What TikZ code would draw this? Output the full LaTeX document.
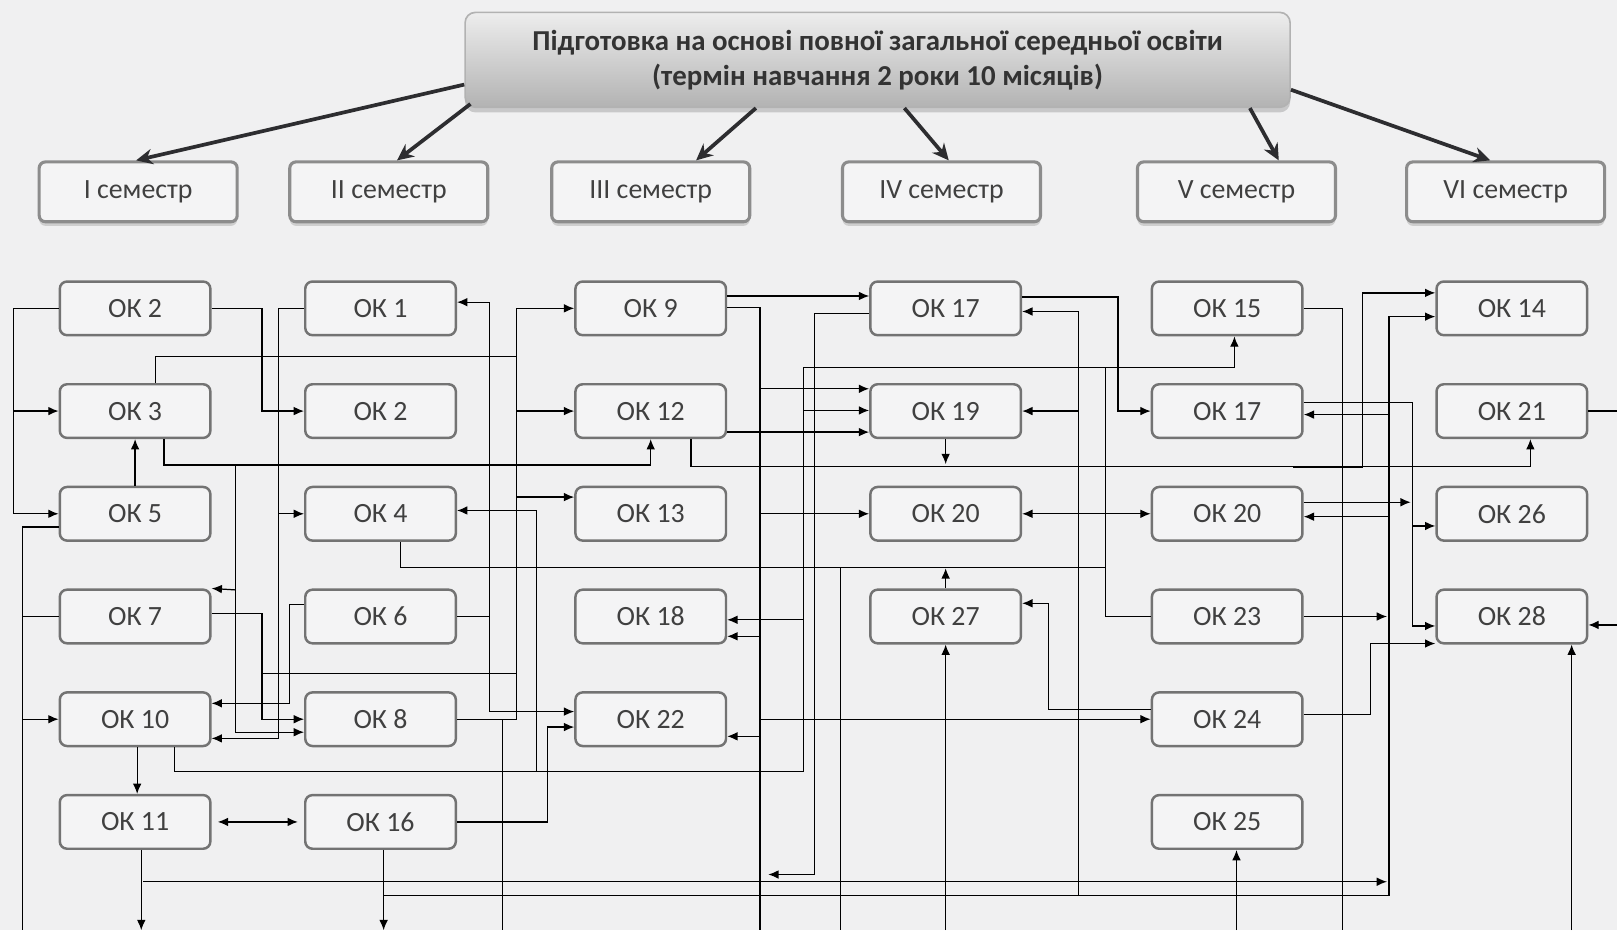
\documentclass[tikz,border=0pt]{standalone}
\usepackage{fontspec}
\setmainfont{Carlito}
\usetikzlibrary{arrows.meta,shadows}
\definecolor{paper}{RGB}{240,240,241}
\definecolor{boxfill}{RGB}{244,244,245}
\definecolor{ink}{RGB}{45,45,48}

\begin{document}
\begin{tikzpicture}[x=0.5pt,y=-0.5pt,>={Latex[length=5pt,width=4.2pt]},line width=0.6pt,node distance=49.8pt,
  every node/.style={font=\fontsize{13.5}{16}\selectfont,text=black!75},
  ok/.style={draw=black!55,line width=1.2pt,rounded corners=3.5pt,fill=boxfill,minimum width=73pt,minimum height=26pt,inner sep=0pt},
  sem/.style={draw=black!45,line width=1.5pt,rounded corners=3pt,fill=boxfill,minimum width=96pt,minimum height=29pt,drop shadow={shadow xshift=0pt,shadow yshift=-2pt,opacity=0.3}},
  head/.style={draw=black!30,line width=0.8pt,rounded corners=5pt,top color=black!7,bottom color=black!30,minimum width=400pt,minimum height=46pt,align=center,font=\bfseries\fontsize{14}{17}\selectfont,text=black!80,drop shadow={shadow xshift=0pt,shadow yshift=-2.5pt,opacity=0.35}},
  big/.style={line width=1.8pt,draw=ink,-{Stealth[length=8pt,width=7.5pt]}}]
  \useasboundingbox (0,0) rectangle (1568,902);
  \fill[paper] (0,0) rectangle (1568,902);

  \node[head] (prep) at (851,58) {Підготовка на основі повної загальної середньої освіти\\(термін навчання 2 роки 10 місяців)};
  \node[sem] (s1) at (134,186) {I семестр};
  \node[sem] (s2) at (377,186) {II семестр};
  \node[sem] (s3) at (631,186) {III семестр};
  \node[sem] (s4) at (913,186) {IV семестр};
  \node[sem] (s5) at (1199,186) {V семестр};
  \node[sem] (s6) at (1460,186) {VI семестр};

  \node[ok] (ok2a) at (131,299) {ОК 2};
  \node[ok] (ok3) [below of=ok2a] {ОК 3};
  \node[ok] (ok5) [below of=ok3] {ОК 5};
  \node[ok] (ok7) [below of=ok5] {ОК 7};
  \node[ok] (ok10) [below of=ok7] {ОК 10};
  \node[ok] (ok11) [below of=ok10] {ОК 11};

  \node[ok] (ok1) at (369,299) {ОК 1};
  \node[ok] (ok2b) [below of=ok1] {ОК 2};
  \node[ok] (ok4) [below of=ok2b] {ОК 4};
  \node[ok] (ok6) [below of=ok4] {ОК 6};
  \node[ok] (ok8) [below of=ok6] {ОК 8};
  \node[ok] (ok16) [below of=ok8] {ОК 16};

  \node[ok] (ok9) at (631,299) {ОК 9};
  \node[ok] (ok12) [below of=ok9] {ОК 12};
  \node[ok] (ok13) [below of=ok12] {ОК 13};
  \node[ok] (ok18) [below of=ok13] {ОК 18};
  \node[ok] (ok22) [below of=ok18] {ОК 22};

  \node[ok] (ok17a) at (917,299) {ОК 17};
  \node[ok] (ok19) [below of=ok17a] {ОК 19};
  \node[ok] (ok20a) [below of=ok19] {ОК 20};
  \node[ok] (ok27) [below of=ok20a] {ОК 27};

  \node[ok] (ok15) at (1190,299) {ОК 15};
  \node[ok] (ok17b) [below of=ok15] {ОК 17};
  \node[ok] (ok20b) [below of=ok17b] {ОК 20};
  \node[ok] (ok23) [below of=ok20b] {ОК 23};
  \node[ok] (ok24) [below of=ok23] {ОК 24};
  \node[ok] (ok25) [below of=ok24] {ОК 25};

  \node[ok] (ok14) at (1466,299) {ОК 14};
  \node[ok] (ok21) [below of=ok14] {ОК 21};
  \node[ok] (ok26) [below of=ok21] {ОК 26};
  \node[ok] (ok28) [below of=ok26] {ОК 28};

  \draw[big] (prep.west |- 0,82) -- (s1.north -| 132,0);
  \draw[big] (prep.south west) ++(6,-4) -- (s2.north -| 385,0);
  \draw[big] (prep.south -| 733,0) -- (s3.north -| 675,0);
  \draw[big] (prep.south -| 877,0) -- (s4.north -| 920,0);
  \draw[big] (prep.south -| 1212,0) -- (s5.north -| 1240,0);
  \draw[big] (prep.east |- 0,87) -- (s6.north -| 1445,0);

  \draw[->] (ok2a.west) -| (ok5.west -| 13,0) -- (ok5.west);
  \draw[->] (ok3.west -| 13,0) -- (ok3.west);
  \draw[->] (ok2a.east) -| (ok2b.west -| 254,0) -- (ok2b.west);
  \draw[->] (ok1.west) -| (270,716) -- (ok10.east |- 0,716);
  \draw[->] (ok4.west -| 270,0) -- (ok4.west);
  \draw (ok3.north -| 151,0) |- (501,346);
  \draw[->] (ok8.east) -| (ok9.west -| 501,0) -- (ok9.west);
  \draw[->] (ok12.west -| 501,0) -- (ok12.west);
  \draw[->] (501,482) -- (ok13.west |- 0,482);
  \draw (ok8.east -| 487,0) -- (487,902);
  \draw[->] (ok7.east |- 0,595) -| (ok8.west -| 254,0) -- (ok8.west);
  \draw (254,653) -- (501,653);
  \draw[->] (ok3.south -| 159,0) |- (631,451) -- (ok12.south);
  \draw[->] (228,451) |- (ok8.west |- 0,710);
  \draw[->] (228,572) -- (ok7.north east);
  \draw[->] (ok5.north) -- (ok3.south);
  \draw (ok5.west |- 0,511) -| (22,902);
  \draw (ok7.west) -- (ok7.west -| 22,0);
  \draw[->] (ok10.west -| 22,0) -- (ok10.west);
  \draw[->] (ok6.west |- 0,586) -| (281,682) -- (ok10.east |- 0,682);
  \draw[->] (ok6.east) -| (475,293) -- (ok1.east |- 0,293);
  \draw[->] (ok6.east -| 475,0) |- (ok22.west |- 0,690);
  \draw[->] (ok10.south -| 169,0) |- (779,748) -- (779,356) -| (ok15.south -| 1197,0);
  \draw[->] (520,748) |- (ok4.east |- 0,495);
  \draw[->] (779,601) -- (ok18.east |- 0,601);
  \draw[->] (779,398) -- (ok19.west |- 0,398);
  \draw[->] (ok9.east |- 0,287) -- (ok17a.west |- 0,287);
  \draw (ok9.east |- 0,298) -| (737,902);
  \draw[->] (737,377) -- (ok19.west |- 0,377);
  \draw[->] (ok20a.west -| 737,0) -- (ok20a.west);
  \draw[->] (737,617) -- (ok18.east |- 0,617);
  \draw[->] (737,714) -- (ok22.east |- 0,714);
  \draw[->] (ok24.west -| 737,0) -- (ok24.west);
  \draw[->] (ok12.east |- 0,419) -- (ok19.west |- 0,419);
  \draw[->] (ok12.south -| 670,0) |- (1484,452) -- (ok21.south -| 1484,0);
  \draw[->] (1254,453) -| (1321,284) -- (ok14.west |- 0,284);
  \draw[->] (ok19.south) -- (917,450);
  \draw[->] (ok16.east) -| (531,705) -- (ok22.west |- 0,705);
  \draw[->] (ok10.south -| 133,0) -- (ok11.north -| 133,0);
  \draw[<->,shorten <=3pt,shorten >=3pt] (ok11.east) -- (ok16.west);
  \draw[->] (ok11.south -| 137,0) -- (137,902);
  \draw[->] (139,855) -- (1345,855);
  \draw[->] (ok16.south -| 372,0) -- (372,902);
  \draw[->] (372,868) -| (1347,307) -- (ok14.west |- 0,307);
  \draw[->] (1347,402) -- (ok17b.east |- 0,402);
  \draw[->] (1347,501) -- (ok20b.east |- 0,501);
  \draw[->] (1046,868) |- (ok17a.east |- 0,302);
  \draw[->] (ok19.east -| 1046,0) -- (ok19.east);
  \draw[->] (ok17a.west |- 0,304) -| (790,848) -- (745,848);
  \draw[->] (ok17a.east |- 0,288) -| (ok17b.west -| 1084,0) -- (ok17b.west);
  \draw[<->] (ok20a.east) -- (ok20b.west);
  \draw (ok4.south -| 388,0) |- (1072,550);
  \draw (1072,356) |- (ok23.west);
  \draw[->] (ok27.north) -- (917,551);
  \draw (815,550) -- (815,902);
  \draw[->] (917,902) -- (ok27.south);
  \draw[->] (ok24.west |- 0,688) -| (1017,585) -- (ok27.east |- 0,585);
  \draw (ok15.east) -| (1302,902);
  \draw[->] (ok17b.east |- 0,390) -| (1370,607) -- (ok28.west |- 0,607);
  \draw[->] (1370,510) -- (ok26.west |- 0,510);
  \draw[->] (ok20b.east |- 0,487) -- (1368,487);
  \draw[->] (ok23.east) -- (ok23.east -| 1345,0);
  \draw[->] (ok24.east |- 0,693) -| (1329,624) -- (ok28.west |- 0,624);
  \draw (ok21.east) -- (ok21.east -| 1568,0);
  \draw[->] (1568,606) -- (ok28.east |- 0,606);
  \draw[->] (1524,902) -- (ok28.south -| 1524,0);
  \draw[->] (1199,902) -- (ok25.south -| 1199,0);
\end{tikzpicture}
\end{document}
